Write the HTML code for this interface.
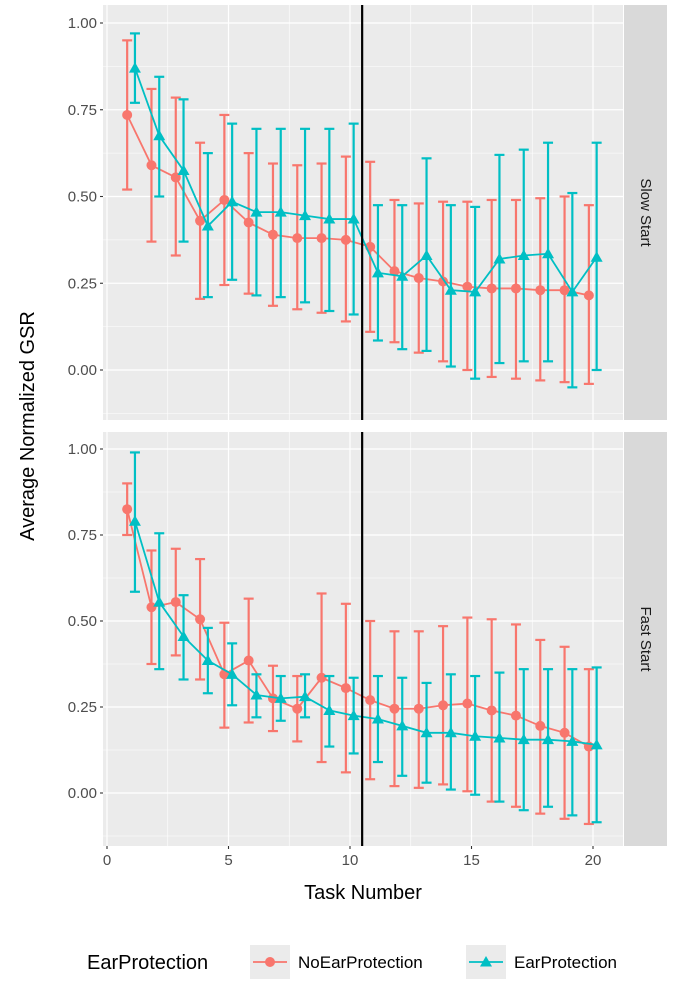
<!DOCTYPE html>
<html><head><meta charset="utf-8"><style>
body{margin:0;background:#fff;}
svg text{font-family:"Liberation Sans",sans-serif;}
</style></head><body>
<svg id="chart" width="683" height="979" xmlns="http://www.w3.org/2000/svg"></svg>
<script>
const tasks=[1,2,3,4,5,6,7,8,9,10,11,12,13,14,15,16,17,18,19,20];
const slowNoMean=[0.735,0.59,0.555,0.43,0.49,0.425,0.39,0.38,0.38,0.375,0.355,0.285,0.265,0.255,0.24,0.235,0.235,0.23,0.23,0.215];
const slowNoLo=[0.52,0.37,0.33,0.205,0.245,0.22,0.185,0.175,0.165,0.14,0.11,0.08,0.05,0.025,0.0,-0.02,-0.025,-0.03,-0.035,-0.04];
const slowNoHi=[0.95,0.81,0.785,0.655,0.735,0.625,0.595,0.59,0.595,0.615,0.60,0.49,0.48,0.485,0.485,0.49,0.49,0.495,0.50,0.475];
const slowEarMean=[0.87,0.675,0.575,0.415,0.485,0.455,0.455,0.445,0.435,0.435,0.28,0.27,0.33,0.23,0.225,0.32,0.33,0.335,0.225,0.325];
const slowEarLo=[0.77,0.50,0.37,0.21,0.26,0.215,0.21,0.195,0.17,0.16,0.085,0.06,0.055,0.01,-0.025,0.02,0.025,0.025,-0.05,0.0];
const slowEarHi=[0.97,0.845,0.78,0.625,0.71,0.695,0.695,0.695,0.695,0.71,0.475,0.475,0.61,0.475,0.47,0.62,0.635,0.655,0.51,0.655];
const fastNoMean=[0.825,0.54,0.555,0.505,0.345,0.385,0.275,0.245,0.335,0.305,0.27,0.245,0.245,0.255,0.26,0.24,0.225,0.195,0.175,0.135];
const fastNoLo=[0.75,0.375,0.40,0.33,0.19,0.205,0.18,0.15,0.09,0.06,0.04,0.02,0.015,0.025,0.005,-0.025,-0.04,-0.06,-0.075,-0.09];
const fastNoHi=[0.90,0.705,0.71,0.68,0.495,0.565,0.37,0.34,0.58,0.55,0.50,0.47,0.47,0.485,0.51,0.505,0.49,0.445,0.425,0.36];
const fastEarMean=[0.79,0.555,0.455,0.385,0.345,0.285,0.275,0.28,0.24,0.225,0.215,0.195,0.175,0.175,0.165,0.16,0.155,0.155,0.15,0.14];
const fastEarLo=[0.585,0.36,0.33,0.29,0.255,0.22,0.21,0.22,0.135,0.115,0.09,0.05,0.03,0.01,-0.005,-0.025,-0.05,-0.04,-0.065,-0.085];
const fastEarHi=[0.99,0.755,0.575,0.48,0.435,0.345,0.34,0.345,0.34,0.335,0.34,0.335,0.32,0.345,0.34,0.35,0.36,0.36,0.36,0.365];
const xTicks=[0,5,10,15,20];
const yTicks=[0,0.25,0.5,0.75,1.0];
const yTickLabels=["0.00","0.25","0.50","0.75","1.00"];
const vline=10.5;

const svg=document.getElementById('chart');
const NS='http://www.w3.org/2000/svg';
function mk(tag,attrs,parent){const e=document.createElementNS(NS,tag);for(const k in attrs)e.setAttribute(k,attrs[k]);(parent||svg).appendChild(e);return e;}
const PL=103,PR=623;
const x=v=>107+v*24.3;
const panels=[
 {top:5,bot:420,y0:370,scale:347,label:"Slow Start",sets:[[slowNoMean,slowNoLo,slowNoHi],[slowEarMean,slowEarLo,slowEarHi]]},
 {top:432,bot:846,y0:793,scale:344,label:"Fast Start",sets:[[fastNoMean,fastNoLo,fastNoHi],[fastEarMean,fastEarLo,fastEarHi]]}
];
const cols=["#F8766D","#00BFC4"];
const dodge=[-0.17,0.15];
panels.forEach((p,pi)=>{
 const y=v=>p.y0-v*p.scale;
 const g=mk('g',{});
 
 
 mk('rect',{x:PL,y:p.top,width:PR-PL,height:p.bot-p.top,fill:'#EBEBEB'},g);
 for(let v=-0.125;v<=1.1;v+=0.25){const yy=y(v);if(yy>p.top&&yy<p.bot)mk('line',{x1:PL,x2:PR,y1:yy,y2:yy,stroke:'#fff','stroke-width':0.6},g);}
 for(let v=2.5;v<=20;v+=5)mk('line',{x1:x(v),x2:x(v),y1:p.top,y2:p.bot,stroke:'#fff','stroke-width':0.6},g);
 yTicks.forEach((v,i)=>{mk('line',{x1:PL,x2:PR,y1:y(v),y2:y(v),stroke:'#fff','stroke-width':1.2},g);
  mk('line',{x1:PL-3,x2:PL,y1:y(v),y2:y(v),stroke:'#333','stroke-width':1.1},g);
  const t=mk('text',{x:PL-6,y:y(v)+5,'text-anchor':'end','font-size':15,fill:'#4D4D4D'},g);t.textContent=yTickLabels[i];
  });
 xTicks.forEach(v=>mk('line',{x1:x(v),x2:x(v),y1:p.top,y2:p.bot,stroke:'#fff','stroke-width':1.2},g));
 p.sets.forEach((s,si)=>{
  const [m,lo,hi]=s;const c=cols[si];
  const gs=mk('g',{},g);
  
  
  tasks.forEach((t,i)=>{const xx=x(t+dodge[si]);
   mk('line',{x1:xx,x2:xx,y1:y(lo[i]),y2:y(hi[i]),stroke:c,'stroke-width':2.2},gs);
   mk('line',{x1:xx-5,x2:xx+5,y1:y(lo[i]),y2:y(lo[i]),stroke:c,'stroke-width':2.2},gs);
   mk('line',{x1:xx-5,x2:xx+5,y1:y(hi[i]),y2:y(hi[i]),stroke:c,'stroke-width':2.2},gs);});
  mk('polyline',{points:tasks.map((t,i)=>x(t+dodge[si])+','+y(m[i])).join(' '),fill:'none',stroke:c,'stroke-width':1.8},gs);
  tasks.forEach((t,i)=>{const xx=x(t+dodge[si]),yy=y(m[i]);
   if(si==0)mk('circle',{cx:xx,cy:yy,r:5,fill:c},gs);
   else mk('polygon',{points:`${xx},${yy-6} ${xx-6},${yy+4.5} ${xx+6},${yy+4.5}`,fill:c},gs);});
 });
 mk('line',{x1:x(vline),x2:x(vline),y1:p.top,y2:p.bot,stroke:'#000','stroke-width':2.2},g);
 mk('rect',{x:624,y:p.top,width:43,height:p.bot-p.top,fill:'#D9D9D9'},g);
 const cy=(p.top+p.bot)/2;
 const st=mk('text',{x:645,y:cy,'text-anchor':'middle','font-size':15,fill:'#1A1A1A',transform:`rotate(90 645 ${cy})`,'dominant-baseline':'middle'},g);
 st.textContent=p.label;
});
xTicks.forEach(v=>{mk('line',{x1:x(v),x2:x(v),y1:846,y2:849,stroke:'#333','stroke-width':1.1});
 const t=mk('text',{x:x(v),y:865,'text-anchor':'middle','font-size':15,fill:'#4D4D4D'});t.textContent=v;
 });
let t=mk('text',{x:363,y:899,'text-anchor':'middle','font-size':20,fill:'#000'});t.textContent='Task Number';

t=mk('text',{x:34,y:426,'text-anchor':'middle','font-size':20,fill:'#000',transform:'rotate(-90 34 426)'});t.textContent='Average Normalized GSR';

const lg=mk('g',{});
t=mk('text',{x:87,y:969,'font-size':20,fill:'#000'},lg);t.textContent='EarProtection';

[[250,'NoEarProtection',0],[466,'EarProtection',1]].forEach(([lx,lab,si])=>{
 const e=mk('g',{},lg);
 mk('rect',{x:lx,y:945,width:40,height:34,fill:'#EBEBEB'},e);
 mk('line',{x1:lx+3,x2:lx+37,y1:962,y2:962,stroke:cols[si],'stroke-width':1.8},e);
 if(si==0)mk('circle',{cx:lx+20,cy:962,r:5,fill:cols[si]},e);
 else mk('polygon',{points:`${lx+20},956 ${lx+14},966.5 ${lx+26},966.5`,fill:cols[si]},e);
 const tt=mk('text',{x:lx+48,y:968,'font-size':17,fill:'#000'},e);tt.textContent=lab;
});
</script>
</body></html>
